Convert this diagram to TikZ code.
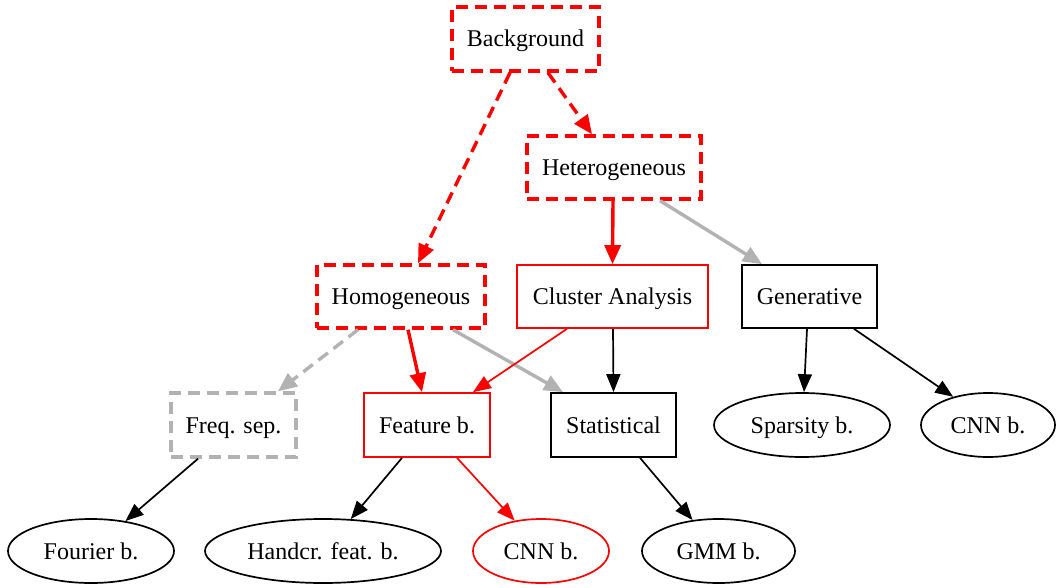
\documentclass[tikz,border=0pt]{standalone}
\usepackage{fontspec}
\setmainfont{Liberation Serif}
\usetikzlibrary{arrows.meta,calc,shapes.geometric}
\definecolor{lightgray}{RGB}{178,178,178}
\tikzset{
  base/.style={inner sep=0pt, font=\fontsize{24}{28}\selectfont, text height=18pt, text depth=2pt, line width=1.7pt},
  box/.style={base, draw, rectangle, minimum height=64pt},
  oval/.style={base, draw, ellipse, minimum height=64pt},
  dashbox/.style={dash pattern=on 12pt off 7pt, line width=3.4pt},
  thin/.style={line width=1.7pt, -{Triangle[length=18pt,width=14pt]}},
  thick/.style={line width=3.4pt, -{Triangle[length=19pt,width=16pt]}},
  dashedge/.style={thick, dash pattern=on 12pt off 7pt}
}
\begin{document}
\begin{tikzpicture}[x=1pt,y=-1pt]
\useasboundingbox (0,0) rectangle (1056,588);

% top levels
\node[box, dashbox, red, text=black, minimum width=147pt] (bg)  at (525.5,39)  {Background};
\node[box, dashbox, red, text=black, minimum width=174pt, minimum height=63pt] (het) at (614,167.5) {Heterogeneous};
\node[box, dashbox, red, text=black, minimum width=168pt, minimum height=63pt] (hom) at (401,296.5) {Homogeneous};
\node[box, red, text=black, minimum width=191pt, minimum height=63pt] (clu) at (612.5,296.5) {Cluster Analysis};
\node[box, minimum width=135pt, minimum height=63pt] (gen) at (809.5,296.5) {Generative};

% method families
\node[box, dashbox, lightgray, text=black, minimum width=125pt] (frq) at (233.5,425) {Freq. sep.};
\node[box, red, text=black, minimum width=126pt] (fea) at (427,425) {Feature b.};
\node[box, minimum width=125pt] (sta) at (613.5,425) {Statistical};
\node[oval, minimum width=176pt] (spa) at (802,425) {Sparsity b.};
\node[oval, minimum width=134pt] (cnr) at (988,425) {CNN b.};

% leaves
\node[oval, minimum width=166pt] (fou) at (91,551) {Fourier b.};
\node[oval, minimum width=236pt] (han) at (323,551) {Handcr. feat. b.};
\node[oval, red, text=black, minimum width=136pt] (cnn) at (541,551) {CNN b.};
\node[oval, minimum width=153pt] (gmm) at (718.5,551) {GMM b.};

% connectors
\draw[dashedge, red] ($(bg.south)+(22.5,0)$) -- ($(het.north)+(-22,0)$);
\draw[dashedge, red] ($(bg.south)+(-15.5,0)$) -- ($(hom.north)+(17,0)$);
\draw[thick, red] ($(het.south)+(-1,0)$) -- (clu.north);
\draw[thick, lightgray] ($(het.south)+(46,0)$) -- ($(gen.north)+(-47.5,0)$);
\draw[dashedge, lightgray] ($(hom.south)+(-43,0)$) -- ($(frq.north)+(44.5,0)$);
\draw[thick, red] ($(hom.south)+(7,0)$) -- ($(fea.north)+(-5,0)$);
\draw[thick, lightgray] ($(hom.south)+(52,0)$) -- ($(sta.north)+(-50.5,0)$);
\draw[thin, red] ($(clu.south)+(-45.5,0)$) -- ($(fea.north)+(46,0)$);
\draw[thin] ($(clu.south)+(0.5,0)$) -- ($(sta.north)+(0,0)$);
\draw[thin] ($(gen.south)+(-2.5,0)$) -- ($(spa.north)+(2,0)$);
\draw[thin] ($(gen.south)+(44.5,0)$) -- (cnr.141);
\draw[thin] ($(frq.south)+(-35.5,0)$) -- (fou.41);
\draw[thin] ($(fea.south)+(-25,0)$) -- (han.49);
\draw[thin, red] ($(fea.south)+(30,0)$) -- (cnn.131);
\draw[thin] ($(sta.south)+(26.5,0)$) -- (gmm.130);
\end{tikzpicture}
\end{document}
